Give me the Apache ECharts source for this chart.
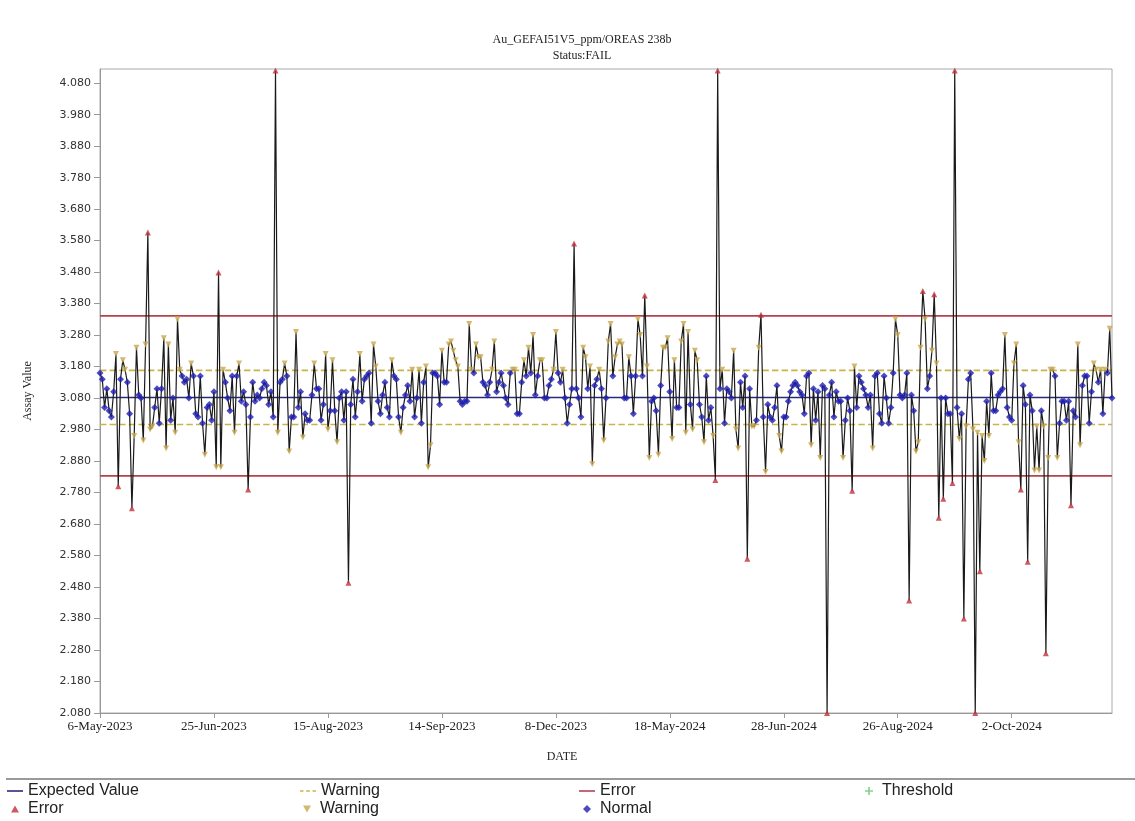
<!DOCTYPE html>
<html><head><meta charset="utf-8">
<script src="https://cdn.jsdelivr.net/npm/echarts@6/dist/echarts.min.js"></script>
<style>html,body{margin:0;padding:0;background:#fff}#chart{width:1135px;height:821px}</style>
</head><body><div id="chart"></div>
<script>
// Assay values in sample order
const assayValues = [
3.16,3.14,3.05,3.11,3.04,3.02,3.10,3.22,2.80,3.14,
3.20,3.17,3.13,3.03,2.73,2.96,3.24,3.09,3.08,2.945,
3.25,3.606,2.98,2.99,3.05,3.11,3.00,3.11,3.27,2.92,
3.25,3.01,3.08,2.97,3.33,3.17,3.15,3.13,3.14,3.08,
3.19,3.15,3.03,3.02,3.15,3.00,2.90,3.05,3.06,3.01,
3.10,2.86,3.479,2.86,3.17,3.13,3.08,3.04,3.15,2.97,
3.15,3.19,3.07,3.10,3.06,2.79,3.02,3.13,3.07,3.09,
3.08,3.11,
3.13,3.12,3.06,3.10,3.02,4.12,2.97,3.13,3.14,3.19,
3.15,2.91,3.02,3.02,3.29,3.05,3.10,2.955,3.03,3.01,
3.01,3.09,3.19,3.11,3.11,3.01,3.06,3.22,2.98,3.04,
3.20,3.04,2.94,3.08,3.10,3.01,3.10,2.494,3.06,3.14,
3.02,3.10,3.22,3.07,3.14,3.15,3.16,3.00,3.25,3.18,
3.07,3.03,3.09,3.13,3.05,3.02,3.20,3.15,3.14,3.02,
2.97,3.05,3.09,3.12,3.07,3.17,3.02,3.08,3.17,3.00,
3.13,3.18,2.86,2.93,3.16,
3.16,3.15,3.06,3.23,3.13,3.13,3.25,3.26,3.23,3.20,
3.18,3.07,3.06,3.07,3.07,3.315,3.17,3.16,3.25,3.21,
3.21,3.13,3.12,3.09,3.13,3.17,3.26,3.10,3.13,3.16,
3.12,3.08,3.06,3.16,3.17,3.17,3.03,3.03,3.13,3.20,
3.15,3.24,3.16,3.28,3.09,3.15,3.20,3.20,3.08,3.08,
3.12,3.14,3.17,3.29,3.16,3.13,3.17,3.08,3.00,3.06,
3.11,3.571,3.11,3.08,3.02,3.24,3.21,3.11,3.18,2.87,
3.12,3.14,
3.17,3.11,2.945,3.08,3.26,3.315,3.15,3.21,3.25,3.26,
3.25,3.08,3.08,3.21,3.15,3.03,3.15,3.33,3.28,3.15,
3.406,3.18,2.89,3.07,3.08,3.04,2.90,3.12,3.24,3.24,
3.27,3.10,2.95,3.20,3.05,3.05,3.26,3.315,2.97,3.29,
3.06,2.98,3.23,3.20,3.06,3.02,2.94,3.15,3.01,3.05,
2.96,2.82,4.12,3.11,3.17,3.00,3.11,3.10,3.08,3.23,
2.98,2.92,3.13,3.05,3.15,2.57,3.11,2.99,2.99,3.01,
3.24,3.345,3.02,2.845,3.06,3.02,
3.01,3.05,3.12,2.96,2.91,3.02,3.02,3.07,3.10,3.12,
3.13,3.12,3.10,3.09,3.03,3.15,3.16,2.93,3.11,3.01,
3.10,2.89,3.12,3.11,2.08,3.09,3.13,3.02,3.10,3.07,
3.07,2.89,3.01,3.08,3.04,2.786,3.18,3.05,3.15,3.13,
3.11,3.09,3.05,3.09,2.92,3.15,3.16,3.03,3.00,3.15,
3.08,3.00,3.05,3.16,3.33,3.28,3.09,3.08,3.09,3.16,
2.437,3.09,3.04,2.91,2.94,3.24,3.42,3.33,3.11,3.15,
3.23,3.41,3.19,
2.70,3.08,2.76,3.08,3.03,3.03,2.81,4.12,3.05,2.95,
3.03,2.38,2.99,3.14,3.16,2.98,2.08,2.97,2.53,2.96,
2.88,3.07,2.96,3.16,3.04,3.04,3.09,3.10,3.11,3.28,
3.05,3.02,3.01,3.19,3.25,2.94,2.79,3.12,3.06,2.56,
3.09,3.04,2.85,2.99,2.85,3.04,2.99,2.27,2.89,3.17,
3.17,3.15,2.89,3.00,3.07,3.07,3.01,3.07,2.74,3.04,
3.02,3.25,2.93,3.12,3.15,3.15,3.00,3.10,3.19,3.17,
3.13,3.17,3.03,3.17,3.16,3.30,3.08
];
const xTickIndex = [0,50,100,150,200,250,300,350,400];
const xTickLabels = ['6-May-2023','25-Jun-2023','15-Aug-2023','14-Sep-2023','8-Dec-2023','18-May-2024','28-Jun-2024','26-Aug-2024','2-Oct-2024'];
const yTicks = [2.08,2.18,2.28,2.38,2.48,2.58,2.68,2.78,2.88,2.98,3.08,3.18,3.28,3.38,3.48,3.58,3.68,3.78,3.88,3.98,4.08];
const expectedValue = 3.082;
const warningLimits = [3.168, 2.996];
const errorLimits = [3.341, 2.833];

const N = assayValues.length;
const lastIdx = N - 1;
const pts = assayValues.map((v, i) => [i, v]);
const isError = v => v > errorLimits[0] || v < errorLimits[1];
const isWarn = v => !isError(v) && (v > warningLimits[0] || v < warningLimits[1]);
const normalPts = pts.filter(p => !isError(p[1]) && !isWarn(p[1]));
const warnPts = pts.filter(p => isWarn(p[1]));
const errPts = pts.filter(p => isError(p[1]));

const hline = (name, val, color, type) => ({
  name, type: 'line', data: [[0, val], [lastIdx, val]], symbol: 'none', silent: true, z: 1,
  lineStyle: { color, width: 1.6, type: type || 'solid' }, itemStyle: { color }
});

const SANS = 'Liberation Sans', SERIF = 'Liberation Serif';
const ICON_LINE = 'path://M0,0 L16,0 L16,1.6 L0,1.6 Z';
const ICON_DASH = 'path://M0,0 L3.5,0 L3.5,1.6 L0,1.6 Z M6.2,0 L9.8,0 L9.8,1.6 L6.2,1.6 Z M12.5,0 L16,0 L16,1.6 L12.5,1.6 Z';
const ICON_UP = 'path://M4,0 L8,7 L0,7 Z';
const ICON_DOWN = 'path://M0,0 L8,0 L4,7 Z';
const ICON_DIAMOND = 'path://M4,0 L8,4 L4,8 L0,4 Z';
const ICON_PLUS = 'path://M3.2,0 L4.8,0 L4.8,3.2 L8,3.2 L8,4.8 L4.8,4.8 L4.8,8 L3.2,8 L3.2,4.8 L0,4.8 L0,3.2 L3.2,3.2 Z';

const mkLegend = (name, icon, left, top, itemHeight) => ({
  data: [{ name, icon }], left, top,
  padding: 0, itemWidth: 16, itemHeight, itemGap: 0, selectedMode: false,
  itemStyle: { borderWidth: 0 },
  textStyle: { fontFamily: SANS, fontSize: 16, color: '#222' },
  formatter: n => n.trim()
});

const chart = echarts.init(document.getElementById('chart'));
chart.setOption({
  animation: false,
  backgroundColor: '#fff',
  grid: { left: 100, right: 23, top: 69, bottom: 108, show: true, borderColor: '#aaa', borderWidth: 1, containLabel: false, outerBoundsMode: 'none' },
  graphic: [
    { type: 'text', x: 582, y: 40, style: { text: 'Au_GEFAI51V5_ppm/OREAS 238b', align: 'center', verticalAlign: 'middle', fontFamily: SERIF, fontSize: 12, fill: '#222' } },
    { type: 'text', x: 582, y: 56, style: { text: 'Status:FAIL', align: 'center', verticalAlign: 'middle', fontFamily: SERIF, fontSize: 12, fill: '#222' } },
    { type: 'text', x: 562, y: 757, style: { text: 'DATE', align: 'center', verticalAlign: 'middle', fontFamily: SERIF, fontSize: 12, fill: '#222' } },
    { type: 'line', shape: { x1: 6, y1: 779, x2: 1135, y2: 779 }, style: { stroke: '#9a9a9a', lineWidth: 2 } }
  ],
  legend: [
    mkLegend('Expected Value', ICON_LINE, 7, 783, 2),
    mkLegend('Warning', ICON_DASH, 300, 783, 2),
    mkLegend('Error', ICON_LINE, 579, 783, 2),
    mkLegend('Threshold', ICON_PLUS, 865, 783, 8),
    mkLegend('Error ', ICON_UP, 11, 801, 7),
    mkLegend('Warning ', ICON_DOWN, 303, 801, 7),
    mkLegend('Normal', ICON_DIAMOND, 583, 801, 8)
  ],
  xAxis: {
    type: 'value', min: 0, max: lastIdx,
    axisLine: { lineStyle: { color: '#999' } },
    axisTick: { show: true, customValues: xTickIndex, length: 5, lineStyle: { color: '#999' } },
    axisLabel: { customValues: xTickIndex, formatter: v => xTickLabels[xTickIndex.indexOf(v)], fontFamily: SERIF, fontSize: 13, color: '#222', margin: 7 },
    splitLine: { show: false }
  },
  yAxis: {
    type: 'value', min: 2.08, max: 4.125,
    name: 'Assay Value', nameLocation: 'middle', nameGap: 66,
    nameTextStyle: { fontFamily: SERIF, fontSize: 12, color: '#222' },
    axisLine: { show: true, lineStyle: { color: '#999' } },
    axisTick: { show: true, customValues: yTicks, length: 6, lineStyle: { color: '#999' } },
    axisLabel: { customValues: yTicks, formatter: v => v.toFixed(3), fontFamily: 'DejaVu Sans', fontSize: 11, color: '#333', margin: 9 },
    splitLine: { show: false }
  },
  series: [
    hline('Expected Value', expectedValue, '#2a2a78'),
    hline('Warning', warningLimits[0], '#c9b44a', 'dashed'),
    hline('Warning', warningLimits[1], '#c9b44a', 'dashed'),
    hline('Error', errorLimits[0], '#b4434d'),
    hline('Error', errorLimits[1], '#b4434d'),
    { name: 'Assay', type: 'line', data: pts, symbol: 'none', z: 2, silent: true,
      lineStyle: { color: '#1a1a1a', width: 1.2 } },
    { name: 'Threshold', type: 'scatter', data: [], symbol: ICON_PLUS, symbolSize: 8, itemStyle: { color: '#6cc46c' } },
    { name: 'Normal', type: 'scatter', data: normalPts, symbol: 'diamond', symbolSize: 7, z: 4,
      itemStyle: { color: '#1f1fb0' } },
    { name: 'Warning ', type: 'scatter', data: warnPts, symbol: 'path://M0,0 L10,0 L5,9 Z', symbolSize: 6, z: 4,
      itemStyle: { color: '#c8a84c' } },
    { name: 'Error ', type: 'scatter', data: errPts, symbol: 'triangle', symbolSize: 6, z: 5,
      itemStyle: { color: '#c0303a' } }
  ]
});
</script>
</body></html>
